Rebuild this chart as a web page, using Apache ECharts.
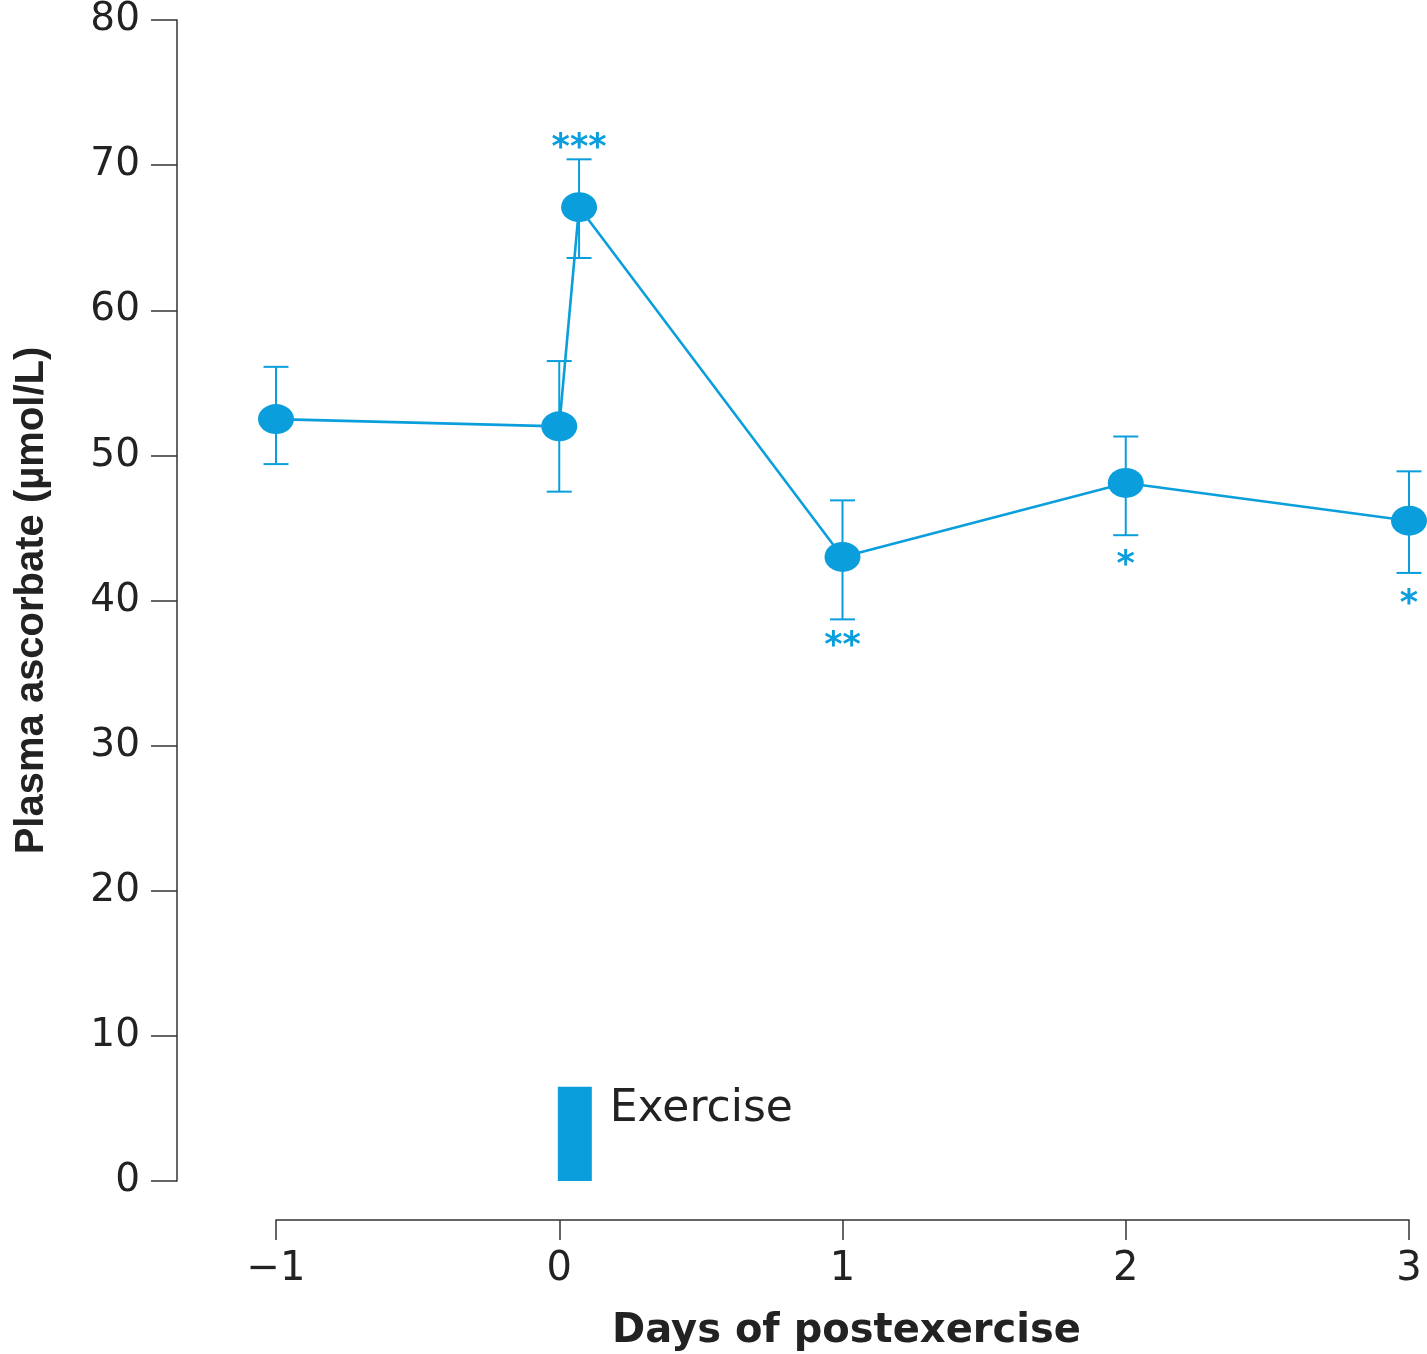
<!DOCTYPE html>
<html><head><meta charset="utf-8">
<script src="https://cdn.jsdelivr.net/npm/echarts@6/dist/echarts.min.js"></script>
<style>html,body{margin:0;padding:0;background:#fff}#c{width:1427px;height:1354px}</style>
</head><body><div id="c"></div>
<script>
// ---- data ----
const days = [-1, 0, 0.07, 1, 2, 3];
const ascorbate = [52.5, 52.0, 67.1, 43.0, 48.1, 45.5];
const errLow = [49.4, 47.5, 63.6, 38.7, 44.5, 41.9];
const errHigh = [56.1, 56.5, 70.4, 46.9, 51.3, 48.9];
const sigX = [0.07, 1, 2, 3];
const sigY = [71.6, 37.3, 42.9, 40.2];
const sigText = ['***', '**', '*', '*'];
const exerciseX = [-0.005, 0.115];
const exerciseY = [0, 6.5];
const exerciseText = 'Exercise';
const exerciseTextY = 4.9;
const yTicks = { min: 0, max: 80, interval: 10 };
const xTicks = { min: -1, max: 3, interval: 1 };

const BLUE = '#0a9fdc';
const INK = '#222';
const FONT = 'DejaVu Sans';

const chart = echarts.init(document.getElementById('c'), null, { renderer: 'canvas' });

const option = {
  backgroundColor: '#fff',
  animation: false,
  grid: { left: 276, right: 18, top: 20, bottom: 173, outerBoundsMode: 'none', containLabel: false },
  xAxis: {
    type: 'value', min: xTicks.min, max: xTicks.max, interval: xTicks.interval,
    position: 'bottom', offset: 39,
    name: 'Days of postexercise', nameLocation: 'middle', nameGap: 92,
    nameTextStyle: { fontFamily: FONT, fontWeight: 'bold', fontSize: 40, color: INK, padding: [0, 0, 0, 8] },
    axisLine: { show: true, onZero: false, lineStyle: { color: '#333', width: 1.5 } },
    axisTick: { show: true, inside: false, length: 20, lineStyle: { color: '#333', width: 1.5 } },
    axisLabel: { fontFamily: FONT, fontSize: 40, color: INK, margin: 30,
      formatter: v => (v < 0 ? '\u2212' + Math.abs(v) : String(v)) },
    splitLine: { show: false }
  },
  yAxis: {
    type: 'value', min: yTicks.min, max: yTicks.max, interval: yTicks.interval,
    position: 'left', offset: 99,
    name: 'Plasma ascorbate (\u00b5mol/L)', nameLocation: 'middle', nameGap: 125, nameRotate: 90,
    nameTextStyle: { fontFamily: 'Liberation Sans', fontWeight: 'bold', fontSize: 40, color: INK },
    axisLine: { show: true, onZero: false, lineStyle: { color: '#333', width: 1.5 } },
    axisTick: { show: true, inside: false, length: 26, lineStyle: { color: '#333', width: 1.5 } },
    axisLabel: { fontFamily: FONT, fontSize: 39, color: INK, margin: 37 },
    splitLine: { show: false }
  },
  series: [
    {
      type: 'custom', name: 'exercise', clip: false, z: 1,
      encode: { x: [0, 1], y: [2, 3] },
      data: [[exerciseX[0], exerciseX[1], exerciseY[0], exerciseY[1]]],
      renderItem: (params, api) => {
        const p1 = api.coord([api.value(0), api.value(3)]);
        const p2 = api.coord([api.value(1), api.value(2)]);
        const t = api.coord([api.value(1), exerciseTextY]);
        return { type: 'group', children: [
          { type: 'rect', shape: { x: p1[0], y: p1[1], width: p2[0] - p1[0], height: p2[1] - p1[1] }, style: { fill: BLUE } },
          { type: 'text', x: t[0] + 18, y: t[1], style: { text: exerciseText, fill: INK, fontFamily: FONT, fontSize: 44, align: 'left', verticalAlign: 'middle' } }
        ] };
      }
    },
    {
      type: 'custom', name: 'error', clip: false, z: 2,
      encode: { x: 0, y: [1, 2] },
      data: days.map((d, i) => [d, errLow[i], errHigh[i]]),
      renderItem: (params, api) => {
        const x = api.value(0);
        const pHi = api.coord([x, api.value(2)]);
        const pLo = api.coord([x, api.value(1)]);
        const w = 12.5;
        const st = { stroke: BLUE, lineWidth: 2 };
        return { type: 'group', children: [
          { type: 'line', shape: { x1: pHi[0], y1: pHi[1], x2: pLo[0], y2: pLo[1] }, style: st },
          { type: 'line', shape: { x1: pHi[0] - w, y1: pHi[1], x2: pHi[0] + w, y2: pHi[1] }, style: st },
          { type: 'line', shape: { x1: pLo[0] - w, y1: pLo[1], x2: pLo[0] + w, y2: pLo[1] }, style: st }
        ] };
      }
    },
    {
      type: 'line', name: 'ascorbate', clip: false, z: 3,
      data: days.map((d, i) => [d, ascorbate[i]]),
      symbol: 'circle', symbolSize: [36, 30], showSymbol: true,
      lineStyle: { color: BLUE, width: 2.6 },
      itemStyle: { color: BLUE, borderWidth: 0 },
      emphasis: { disabled: true }
    },
    {
      type: 'custom', name: 'significance', clip: false, z: 4,
      encode: { x: 0, y: 1 },
      data: sigX.map((x, i) => [x, sigY[i], i]),
      renderItem: (params, api) => {
        const p = api.coord([api.value(0), api.value(1)]);
        return { type: 'text', x: p[0], y: p[1] + 7,
          style: { text: sigText[api.value(2)], fill: BLUE, fontFamily: FONT, fontWeight: 'bold', fontSize: 35, align: 'center', verticalAlign: 'middle' } };
      }
    }
  ]
};
chart.setOption(option);
</script>
</body></html>
